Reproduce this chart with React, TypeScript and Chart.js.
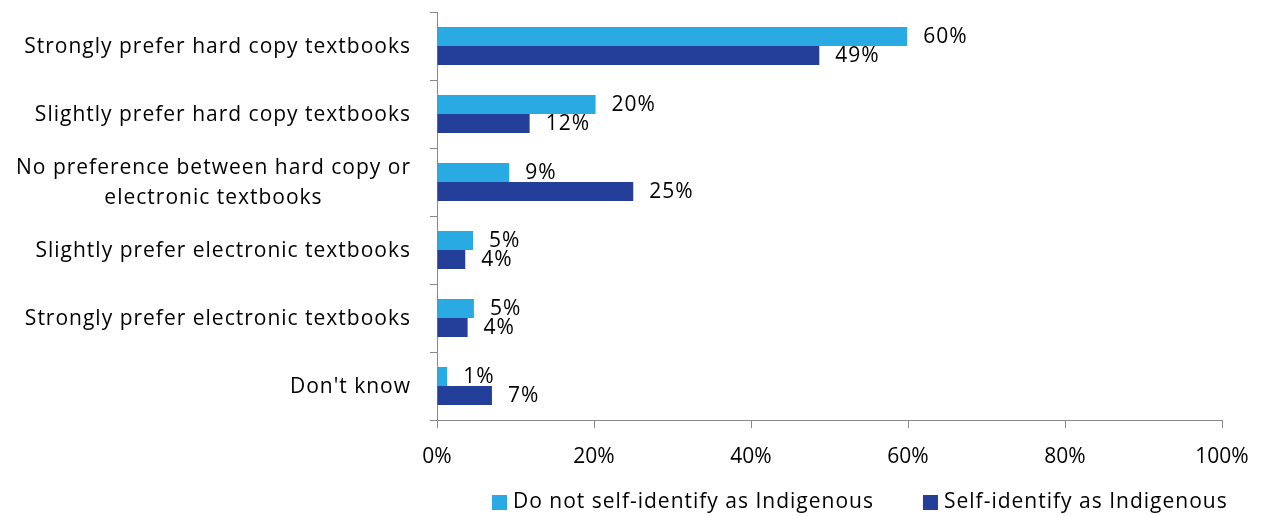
import React, { useEffect, useRef } from "react";
import { Chart, registerables } from "chart.js";

Chart.register(...registerables);

const categories: (string | string[])[] = [
  "Strongly prefer hard copy textbooks",
  "Slightly prefer hard copy textbooks",
  ["No preference between hard copy or", "electronic textbooks"],
  "Slightly prefer electronic textbooks",
  "Strongly prefer electronic textbooks",
  "Don't know",
];
const notIndigenous = [59.9, 20.2, 9.2, 4.6, 4.7, 1.3];
const indigenous = [48.7, 11.8, 25.0, 3.6, 3.9, 7.0];
const seriesNames = ["Do not self-identify as Indigenous", "Self-identify as Indigenous"];
const xTicks = [0, 20, 40, 60, 80, 100];

const LIGHT = "#29AAE2";
const DARK = "#233F99";
const AXIS = "#888888";
const FONT_FAMILY = "'Open Sans', sans-serif";
const FONT_SIZE = 21;
const SPACING = "1px";

const labelsPlugin = {
  id: "valueLabels",
  afterDatasetsDraw(chart: any) {
    const ctx = chart.ctx;
    ctx.save();
    ctx.font = `${FONT_SIZE}px ${FONT_FAMILY}`;
    (ctx as any).letterSpacing = SPACING;
    ctx.fillStyle = "#000";
    ctx.textAlign = "left";
    ctx.textBaseline = "middle";
    chart.data.datasets.forEach((ds: any, di: number) => {
      const meta = chart.getDatasetMeta(di);
      meta.data.forEach((bar: any, i: number) => {
        const v = ds.data[i];
        ctx.fillText(Math.round(v) + "%", bar.x + 16, bar.y + 1);
      });
    });
    ctx.restore();
  },
};

const yLabelsPlugin = {
  id: "yLabels",
  afterDraw(chart: any) {
    const ctx = chart.ctx;
    const y = chart.scales.y;
    const right = chart.chartArea.left - 26;
    ctx.save();
    ctx.font = `${FONT_SIZE}px ${FONT_FAMILY}`;
    (ctx as any).letterSpacing = SPACING;
    ctx.fillStyle = "#000";
    ctx.textBaseline = "middle";
    const lineH = 30;
    categories.forEach((c, i) => {
      const cy = y.getPixelForValue(i);
      const lines = Array.isArray(c) ? c : [c];
      const maxW = Math.max(...lines.map((l) => ctx.measureText(l).width));
      const cx = right - maxW / 2;
      ctx.textAlign = "center";
      lines.forEach((l, li) => {
        const ly = cy + 1 + (li - (lines.length - 1) / 2) * lineH;
        ctx.fillText(l, cx, ly);
      });
    });
    ctx.restore();
  },
};

const legendPlugin = {
  id: "customLegend",
  afterDraw(chart: any) {
    const ctx = chart.ctx;
    const colors = [LIGHT, DARK];
    ctx.save();
    ctx.font = `${FONT_SIZE}px ${FONT_FAMILY}`;
    (ctx as any).letterSpacing = SPACING;
    ctx.textBaseline = "middle";
    ctx.textAlign = "left";
    let x = chart.chartArea.left + 55;
    const cy = 502;
    seriesNames.forEach((name, i) => {
      ctx.fillStyle = colors[i];
      ctx.fillRect(x, cy - 7, 15, 15);
      x += 21;
      ctx.fillStyle = "#000";
      ctx.fillText(name, x, cy);
      x += ctx.measureText(name).width + 49;
    });
    ctx.restore();
  },
};

export default function App() {
  const ref = useRef<HTMLCanvasElement>(null);
  useEffect(() => {
    if (!ref.current) return;
    const chart = new Chart(ref.current, {
      type: "bar",
      data: {
        labels: categories.map((c) => (Array.isArray(c) ? c.join(" ") : c)),
        datasets: [
          {
            label: seriesNames[0],
            data: notIndigenous,
            backgroundColor: LIGHT,
            barPercentage: 1,
            categoryPercentage: 38 / 68,
          },
          {
            label: seriesNames[1],
            data: indigenous,
            backgroundColor: DARK,
            barPercentage: 1,
            categoryPercentage: 38 / 68,
          },
        ],
      },
      options: {
        indexAxis: "y",
        responsive: false,
        animation: false,
        layout: { padding: { top: 12, right: 44, bottom: 0, left: 0 } },
        plugins: {
          legend: { display: false },
          tooltip: { enabled: false },
        },
        scales: {
          y: {
            type: "category",
            offset: true,
            grid: {
              offset: true,
              drawOnChartArea: false,
              drawTicks: true,
              tickLength: 7,
              color: AXIS,
            },
            border: { color: AXIS, width: 1 },
            ticks: { display: false },
            afterFit(scale: any) {
              scale.width = 437;
            },
          },
          x: {
            type: "linear",
            min: 0,
            max: 100,
            afterBuildTicks(scale: any) {
              scale.ticks = xTicks.map((v) => ({ value: v }));
            },
            grid: {
              drawOnChartArea: false,
              drawTicks: true,
              tickLength: 8,
              color: AXIS,
            },
            border: { color: AXIS, width: 1 },
            ticks: {
              color: "#000",
              font: { family: FONT_FAMILY, size: FONT_SIZE },
              padding: 16,
              maxRotation: 0,
              callback: (v: any) => v + "%",
            },
            afterFit(scale: any) {
              scale.height = 96;
            },
          },
        },
      },
      plugins: [labelsPlugin, yLabelsPlugin, legendPlugin],
    } as any);
    return () => chart.destroy();
  }, []);
  return (
    <div style={{ position: "absolute", left: 0, top: 0, width: 1266, height: 516, background: "#fff" }}>
      <canvas ref={ref} width={1266} height={516} style={{ display: "block" }} />
    </div>
  );
}
